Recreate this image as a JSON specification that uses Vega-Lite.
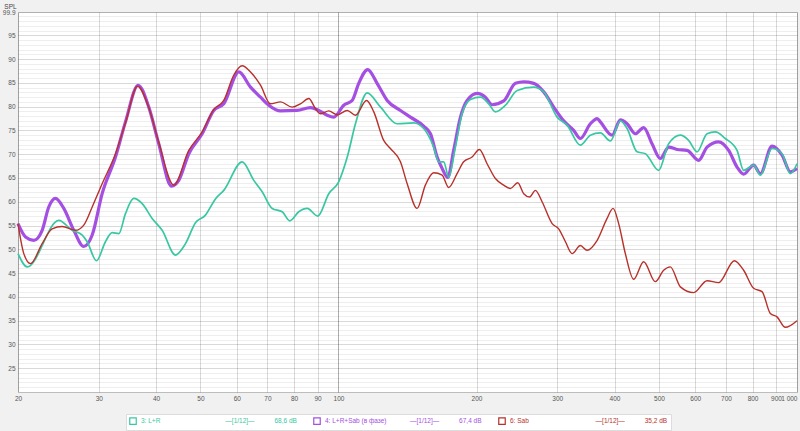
{
  "$schema": "https://vega.github.io/schema/vega-lite/v6.json",
  "width": 779,
  "height": 380,
  "autosize": {"type": "none"},
  "padding": {"left": 18, "top": 12, "right": 3, "bottom": 39},
  "background": "#f1f1f1",
  "config": {
    "view": {"stroke": "#bdbdbd", "fill": "white"},
    "font": "Liberation Sans",
    "axis": {"labelFont": "Liberation Sans", "labelFontSize": 6.5, "labelColor": "#555555", "ticks": false, "domain": false, "gridWidth": 1}
  },
  "datasets": {
    "resp": [
      {"s": "3: L+R", "f": 20, "db": 49.1},
      {"s": "3: L+R", "f": 20.95, "db": 46.3},
      {"s": "3: L+R", "f": 24.55, "db": 56.1},
      {"s": "3: L+R", "f": 26.25, "db": 54.0},
      {"s": "3: L+R", "f": 27.61, "db": 53.0},
      {"s": "3: L+R", "f": 28.31, "db": 51.6},
      {"s": "3: L+R", "f": 29.66, "db": 47.6},
      {"s": "3: L+R", "f": 31.03, "db": 51.6},
      {"s": "3: L+R", "f": 32.09, "db": 53.5},
      {"s": "3: L+R", "f": 33.18, "db": 53.3},
      {"s": "3: L+R", "f": 34.31, "db": 57.5},
      {"s": "3: L+R", "f": 35.77, "db": 60.7},
      {"s": "3: L+R", "f": 37.31, "db": 59.6},
      {"s": "3: L+R", "f": 39.23, "db": 56.5},
      {"s": "3: L+R", "f": 41.25, "db": 54.0},
      {"s": "3: L+R", "f": 44.1, "db": 48.8},
      {"s": "3: L+R", "f": 46.37, "db": 51.2},
      {"s": "3: L+R", "f": 48.76, "db": 55.6},
      {"s": "3: L+R", "f": 51.27, "db": 57.2},
      {"s": "3: L+R", "f": 53.91, "db": 60.6},
      {"s": "3: L+R", "f": 56.21, "db": 62.4},
      {"s": "3: L+R", "f": 61.66, "db": 68.4},
      {"s": "3: L+R", "f": 65.36, "db": 64.5},
      {"s": "3: L+R", "f": 68.17, "db": 62.1},
      {"s": "3: L+R", "f": 71.68, "db": 58.6},
      {"s": "3: L+R", "f": 75.37, "db": 57.9},
      {"s": "3: L+R", "f": 78.3, "db": 56.0},
      {"s": "3: L+R", "f": 81.92, "db": 57.9},
      {"s": "3: L+R", "f": 85.45, "db": 58.6},
      {"s": "3: L+R", "f": 90.12, "db": 57.0},
      {"s": "3: L+R", "f": 95.24, "db": 61.7},
      {"s": "3: L+R", "f": 100.1, "db": 64.2},
      {"s": "3: L+R", "f": 104.5, "db": 69.4},
      {"s": "3: L+R", "f": 108.9, "db": 76.4},
      {"s": "3: L+R", "f": 115.5, "db": 82.9},
      {"s": "3: L+R", "f": 123.5, "db": 79.9},
      {"s": "3: L+R", "f": 134.3, "db": 76.4},
      {"s": "3: L+R", "f": 145.9, "db": 76.6},
      {"s": "3: L+R", "f": 153.4, "db": 75.4},
      {"s": "3: L+R", "f": 161.3, "db": 71.5},
      {"s": "3: L+R", "f": 165.4, "db": 68.4},
      {"s": "3: L+R", "f": 169.6, "db": 68.4},
      {"s": "3: L+R", "f": 173.9, "db": 65.2},
      {"s": "3: L+R", "f": 179.9, "db": 71.5},
      {"s": "3: L+R", "f": 186, "db": 78.5},
      {"s": "3: L+R", "f": 194, "db": 81.5},
      {"s": "3: L+R", "f": 204, "db": 82.0},
      {"s": "3: L+R", "f": 212.6, "db": 80.6},
      {"s": "3: L+R", "f": 219.9, "db": 78.9},
      {"s": "3: L+R", "f": 231.3, "db": 80.3},
      {"s": "3: L+R", "f": 245.3, "db": 83.4},
      {"s": "3: L+R", "f": 266.5, "db": 84.1},
      {"s": "3: L+R", "f": 280.3, "db": 83.1},
      {"s": "3: L+R", "f": 299.8, "db": 77.8},
      {"s": "3: L+R", "f": 315.2, "db": 76.1},
      {"s": "3: L+R", "f": 336.9, "db": 71.9},
      {"s": "3: L+R", "f": 354.3, "db": 74.0},
      {"s": "3: L+R", "f": 372.5, "db": 74.5},
      {"s": "3: L+R", "f": 391.7, "db": 72.8},
      {"s": "3: L+R", "f": 411.9, "db": 77.0},
      {"s": "3: L+R", "f": 426, "db": 75.4},
      {"s": "3: L+R", "f": 447.9, "db": 70.5},
      {"s": "3: L+R", "f": 467, "db": 70.1},
      {"s": "3: L+R", "f": 499.2, "db": 66.6},
      {"s": "3: L+R", "f": 524.9, "db": 72.2},
      {"s": "3: L+R", "f": 556.7, "db": 74.0},
      {"s": "3: L+R", "f": 580.3, "db": 72.9},
      {"s": "3: L+R", "f": 605.4, "db": 70.5},
      {"s": "3: L+R", "f": 636.5, "db": 74.3},
      {"s": "3: L+R", "f": 663.6, "db": 74.7},
      {"s": "3: L+R", "f": 697.8, "db": 73.3},
      {"s": "3: L+R", "f": 740, "db": 70.8},
      {"s": "3: L+R", "f": 764.9, "db": 66.6},
      {"s": "3: L+R", "f": 804.4, "db": 67.7},
      {"s": "3: L+R", "f": 831.9, "db": 65.6},
      {"s": "3: L+R", "f": 882.2, "db": 71.2},
      {"s": "3: L+R", "f": 927.7, "db": 70.1},
      {"s": "3: L+R", "f": 967.1, "db": 65.9},
      {"s": "3: L+R", "f": 1000, "db": 68.0},
      {"s": "4: L+R+Sab (в фазе)", "f": 20, "db": 55.4},
      {"s": "4: L+R+Sab (в фазе)", "f": 20.77, "db": 52.6},
      {"s": "4: L+R+Sab (в фазе)", "f": 21.65, "db": 51.9},
      {"s": "4: L+R+Sab (в фазе)", "f": 22.58, "db": 54.0},
      {"s": "4: L+R+Sab (в фазе)", "f": 23.34, "db": 58.9},
      {"s": "4: L+R+Sab (в фазе)", "f": 24.14, "db": 60.7},
      {"s": "4: L+R+Sab (в фазе)", "f": 25.17, "db": 58.6},
      {"s": "4: L+R+Sab (в фазе)", "f": 26.47, "db": 54.0},
      {"s": "4: L+R+Sab (в фазе)", "f": 27.83, "db": 50.6},
      {"s": "4: L+R+Sab (в фазе)", "f": 29.03, "db": 53.0},
      {"s": "4: L+R+Sab (в фазе)", "f": 30.52, "db": 61.7},
      {"s": "4: L+R+Sab (в фазе)", "f": 32.63, "db": 69.4},
      {"s": "4: L+R+Sab (в фазе)", "f": 34.31, "db": 76.8},
      {"s": "4: L+R+Sab (в фазе)", "f": 36.57, "db": 84.5},
      {"s": "4: L+R+Sab (в фазе)", "f": 38.57, "db": 79.9},
      {"s": "4: L+R+Sab (в фазе)", "f": 40.55, "db": 72.2},
      {"s": "4: L+R+Sab (в фазе)", "f": 43.22, "db": 63.3},
      {"s": "4: L+R+Sab (в фазе)", "f": 44.84, "db": 64.5},
      {"s": "4: L+R+Sab (в фазе)", "f": 47.15, "db": 70.1},
      {"s": "4: L+R+Sab (в фазе)", "f": 50.43, "db": 74.3},
      {"s": "4: L+R+Sab (в фазе)", "f": 53.45, "db": 79.2},
      {"s": "4: L+R+Sab (в фазе)", "f": 56.21, "db": 80.6},
      {"s": "4: L+R+Sab (в фазе)", "f": 60.62, "db": 87.3},
      {"s": "4: L+R+Sab (в фазе)", "f": 64.29, "db": 84.1},
      {"s": "4: L+R+Sab (в фазе)", "f": 67.59, "db": 82.0},
      {"s": "4: L+R+Sab (в фазе)", "f": 70.46, "db": 80.3},
      {"s": "4: L+R+Sab (в фазе)", "f": 74.73, "db": 79.1},
      {"s": "4: L+R+Sab (в фазе)", "f": 81.26, "db": 79.2},
      {"s": "4: L+R+Sab (в фазе)", "f": 86.88, "db": 79.8},
      {"s": "4: L+R+Sab (в фазе)", "f": 90.57, "db": 79.2},
      {"s": "4: L+R+Sab (в фазе)", "f": 94.48, "db": 78.2},
      {"s": "4: L+R+Sab (в фазе)", "f": 97.66, "db": 77.8},
      {"s": "4: L+R+Sab (в фазе)", "f": 102.7, "db": 80.3},
      {"s": "4: L+R+Sab (в фазе)", "f": 107.1, "db": 81.3},
      {"s": "4: L+R+Sab (в фазе)", "f": 110.7, "db": 84.9},
      {"s": "4: L+R+Sab (в фазе)", "f": 115.8, "db": 87.8},
      {"s": "4: L+R+Sab (в фазе)", "f": 121.4, "db": 84.9},
      {"s": "4: L+R+Sab (в фазе)", "f": 127.7, "db": 81.3},
      {"s": "4: L+R+Sab (в фазе)", "f": 136.5, "db": 79.2},
      {"s": "4: L+R+Sab (в фазе)", "f": 143.5, "db": 77.8},
      {"s": "4: L+R+Sab (в фазе)", "f": 153.4, "db": 75.9},
      {"s": "4: L+R+Sab (в фазе)", "f": 158.7, "db": 74.3},
      {"s": "4: L+R+Sab (в фазе)", "f": 164.1, "db": 69.4},
      {"s": "4: L+R+Sab (в фазе)", "f": 168.3, "db": 67.0},
      {"s": "4: L+R+Sab (в фазе)", "f": 173.1, "db": 65.1},
      {"s": "4: L+R+Sab (в фазе)", "f": 178.3, "db": 70.8},
      {"s": "4: L+R+Sab (в фазе)", "f": 184.5, "db": 77.8},
      {"s": "4: L+R+Sab (в фазе)", "f": 190.8, "db": 81.3},
      {"s": "4: L+R+Sab (в фазе)", "f": 200.6, "db": 82.8},
      {"s": "4: L+R+Sab (в фазе)", "f": 209.1, "db": 82.0},
      {"s": "4: L+R+Sab (в фазе)", "f": 216.3, "db": 80.4},
      {"s": "4: L+R+Sab (в фазе)", "f": 229.3, "db": 81.2},
      {"s": "4: L+R+Sab (в фазе)", "f": 243.2, "db": 84.9},
      {"s": "4: L+R+Sab (в фазе)", "f": 253.5, "db": 85.2},
      {"s": "4: L+R+Sab (в фазе)", "f": 266.5, "db": 84.9},
      {"s": "4: L+R+Sab (в фазе)", "f": 280.3, "db": 83.1},
      {"s": "4: L+R+Sab (в фазе)", "f": 294.7, "db": 79.9},
      {"s": "4: L+R+Sab (в фазе)", "f": 309.9, "db": 77.0},
      {"s": "4: L+R+Sab (в фазе)", "f": 325.8, "db": 75.0},
      {"s": "4: L+R+Sab (в фазе)", "f": 336.9, "db": 73.3},
      {"s": "4: L+R+Sab (в фазе)", "f": 354.3, "db": 76.4},
      {"s": "4: L+R+Sab (в фазе)", "f": 366.6, "db": 77.5},
      {"s": "4: L+R+Sab (в фазе)", "f": 372.5, "db": 76.8},
      {"s": "4: L+R+Sab (в фазе)", "f": 395.1, "db": 74.0},
      {"s": "4: L+R+Sab (в фазе)", "f": 411.9, "db": 77.2},
      {"s": "4: L+R+Sab (в фазе)", "f": 426, "db": 76.4},
      {"s": "4: L+R+Sab (в фазе)", "f": 444.1, "db": 74.3},
      {"s": "4: L+R+Sab (в фазе)", "f": 463, "db": 75.6},
      {"s": "4: L+R+Sab (в фазе)", "f": 482.9, "db": 72.2},
      {"s": "4: L+R+Sab (в фазе)", "f": 503.5, "db": 69.1},
      {"s": "4: L+R+Sab (в фазе)", "f": 524.9, "db": 71.5},
      {"s": "4: L+R+Sab (в фазе)", "f": 547.5, "db": 71.0},
      {"s": "4: L+R+Sab (в фазе)", "f": 575.7, "db": 70.8},
      {"s": "4: L+R+Sab (в фазе)", "f": 610.2, "db": 68.7},
      {"s": "4: L+R+Sab (в фазе)", "f": 636.5, "db": 71.5},
      {"s": "4: L+R+Sab (в фазе)", "f": 674.7, "db": 72.6},
      {"s": "4: L+R+Sab (в фазе)", "f": 709.5, "db": 70.8},
      {"s": "4: L+R+Sab (в фазе)", "f": 740, "db": 67.3},
      {"s": "4: L+R+Sab (в фазе)", "f": 764.9, "db": 65.8},
      {"s": "4: L+R+Sab (в фазе)", "f": 804.4, "db": 67.7},
      {"s": "4: L+R+Sab (в фазе)", "f": 831.9, "db": 65.9},
      {"s": "4: L+R+Sab (в фазе)", "f": 882.2, "db": 71.7},
      {"s": "4: L+R+Sab (в фазе)", "f": 927.7, "db": 69.8},
      {"s": "4: L+R+Sab (в фазе)", "f": 967.1, "db": 66.3},
      {"s": "4: L+R+Sab (в фазе)", "f": 1000, "db": 67.0},
      {"s": "6: Sab", "f": 20, "db": 55.4},
      {"s": "6: Sab", "f": 20.59, "db": 49.1},
      {"s": "6: Sab", "f": 21.3, "db": 47.0},
      {"s": "6: Sab", "f": 22.58, "db": 51.2},
      {"s": "6: Sab", "f": 23.74, "db": 54.3},
      {"s": "6: Sab", "f": 24.97, "db": 54.8},
      {"s": "6: Sab", "f": 26.69, "db": 54.0},
      {"s": "6: Sab", "f": 27.83, "db": 55.1},
      {"s": "6: Sab", "f": 29.03, "db": 58.9},
      {"s": "6: Sab", "f": 30.52, "db": 63.8},
      {"s": "6: Sab", "f": 32.63, "db": 70.1},
      {"s": "6: Sab", "f": 34.31, "db": 76.6},
      {"s": "6: Sab", "f": 36.44, "db": 84.3},
      {"s": "6: Sab", "f": 38.57, "db": 79.8},
      {"s": "6: Sab", "f": 40.55, "db": 72.5},
      {"s": "6: Sab", "f": 43.73, "db": 63.5},
      {"s": "6: Sab", "f": 47.15, "db": 70.8},
      {"s": "6: Sab", "f": 50.43, "db": 74.7},
      {"s": "6: Sab", "f": 53.45, "db": 79.4},
      {"s": "6: Sab", "f": 56.21, "db": 81.3},
      {"s": "6: Sab", "f": 59.08, "db": 86.6},
      {"s": "6: Sab", "f": 61.66, "db": 88.6},
      {"s": "6: Sab", "f": 64.29, "db": 87.3},
      {"s": "6: Sab", "f": 67.59, "db": 84.5},
      {"s": "6: Sab", "f": 71.06, "db": 80.6},
      {"s": "6: Sab", "f": 74.73, "db": 81.0},
      {"s": "6: Sab", "f": 79.25, "db": 79.9},
      {"s": "6: Sab", "f": 82.62, "db": 80.6},
      {"s": "6: Sab", "f": 86.14, "db": 81.7},
      {"s": "6: Sab", "f": 89.08, "db": 79.6},
      {"s": "6: Sab", "f": 91.35, "db": 78.5},
      {"s": "6: Sab", "f": 95.24, "db": 79.1},
      {"s": "6: Sab", "f": 99.34, "db": 78.3},
      {"s": "6: Sab", "f": 104.5, "db": 79.2},
      {"s": "6: Sab", "f": 108.9, "db": 78.2},
      {"s": "6: Sab", "f": 115.1, "db": 81.3},
      {"s": "6: Sab", "f": 119.4, "db": 78.9},
      {"s": "6: Sab", "f": 125.5, "db": 72.9},
      {"s": "6: Sab", "f": 129.8, "db": 71.2},
      {"s": "6: Sab", "f": 136.5, "db": 68.4},
      {"s": "6: Sab", "f": 141.2, "db": 63.8},
      {"s": "6: Sab", "f": 148.4, "db": 58.6},
      {"s": "6: Sab", "f": 154.7, "db": 63.5},
      {"s": "6: Sab", "f": 161.3, "db": 66.1},
      {"s": "6: Sab", "f": 168.3, "db": 65.6},
      {"s": "6: Sab", "f": 173.9, "db": 63.0},
      {"s": "6: Sab", "f": 181.4, "db": 65.9},
      {"s": "6: Sab", "f": 187.5, "db": 68.4},
      {"s": "6: Sab", "f": 195.6, "db": 69.4},
      {"s": "6: Sab", "f": 202.9, "db": 71.0},
      {"s": "6: Sab", "f": 210.9, "db": 68.0},
      {"s": "6: Sab", "f": 219.9, "db": 64.9},
      {"s": "6: Sab", "f": 229.3, "db": 63.5},
      {"s": "6: Sab", "f": 237.1, "db": 62.8},
      {"s": "6: Sab", "f": 246, "db": 64.0},
      {"s": "6: Sab", "f": 253.5, "db": 61.7},
      {"s": "6: Sab", "f": 261.2, "db": 61.0},
      {"s": "6: Sab", "f": 268.8, "db": 62.4},
      {"s": "6: Sab", "f": 278, "db": 60.0},
      {"s": "6: Sab", "f": 292.4, "db": 55.4},
      {"s": "6: Sab", "f": 302.2, "db": 54.3},
      {"s": "6: Sab", "f": 312.6, "db": 51.6},
      {"s": "6: Sab", "f": 323.2, "db": 49.1},
      {"s": "6: Sab", "f": 336.9, "db": 50.8},
      {"s": "6: Sab", "f": 348.5, "db": 49.8},
      {"s": "6: Sab", "f": 366.6, "db": 51.9},
      {"s": "6: Sab", "f": 385.3, "db": 56.5},
      {"s": "6: Sab", "f": 397.1, "db": 58.6},
      {"s": "6: Sab", "f": 408.4, "db": 55.4},
      {"s": "6: Sab", "f": 422.3, "db": 49.1},
      {"s": "6: Sab", "f": 440.3, "db": 43.7},
      {"s": "6: Sab", "f": 463, "db": 47.4},
      {"s": "6: Sab", "f": 491, "db": 43.2},
      {"s": "6: Sab", "f": 511.9, "db": 45.6},
      {"s": "6: Sab", "f": 529.4, "db": 46.3},
      {"s": "6: Sab", "f": 556.7, "db": 42.1},
      {"s": "6: Sab", "f": 595.1, "db": 40.9},
      {"s": "6: Sab", "f": 636.5, "db": 43.4},
      {"s": "6: Sab", "f": 674.7, "db": 43.0},
      {"s": "6: Sab", "f": 730, "db": 47.6},
      {"s": "6: Sab", "f": 764.9, "db": 45.6},
      {"s": "6: Sab", "f": 804.4, "db": 41.8},
      {"s": "6: Sab", "f": 839, "db": 41.1},
      {"s": "6: Sab", "f": 874.7, "db": 36.5},
      {"s": "6: Sab", "f": 904.6, "db": 35.8},
      {"s": "6: Sab", "f": 943.1, "db": 33.6},
      {"s": "6: Sab", "f": 1000, "db": 35.0}
    ]
  },
  "encoding": {
    "x": {
      "field": "f", "type": "quantitative",
      "scale": {"type": "log", "domain": [20, 1000], "nice": false},
      "axis": {
        "title": null,
        "values": [20, 30, 40, 50, 60, 70, 80, 90, 100, 200, 300, 400, 500, 600, 700, 800, 900, 1000],
        "labelExpr": "datum.value >= 1000 ? '1 000' : format(datum.value, 'd')",
        "labelAlign": {"condition": {"test": "datum.value >= 1000", "value": "right"}, "value": "center"},
        "labelOverlap": false,
        "labelFlush": false,
        "labelPadding": 3,
        "gridColor": {"condition": {"test": "datum.value == 100", "value": "rgba(0,0,0,0.32)"}, "value": "rgba(0,0,0,0.15)"}
      }
    },
    "y": {
      "field": "db", "type": "quantitative",
      "scale": {"domain": [20, 99.9], "nice": false, "zero": false},
      "axis": {
        "title": "SPL",
        "titleAngle": 0,
        "titleX": -8,
        "titleY": -4,
        "titleAlign": "center",
        "titleBaseline": "alphabetic",
        "titleFontSize": 6.5,
        "titleFontWeight": "normal",
        "titleColor": "#444444",
        "labelPadding": 3,
        "labelOverlap": false,
        "labelFlush": false,
        "values": [21, 22, 23, 24, 25, 26, 27, 28, 29, 30, 31, 32, 33, 34, 35, 36, 37, 38, 39, 40, 41, 42, 43, 44, 45, 46, 47, 48, 49, 50, 51, 52, 53, 54, 55, 56, 57, 58, 59, 60, 61, 62, 63, 64, 65, 66, 67, 68, 69, 70, 71, 72, 73, 74, 75, 76, 77, 78, 79, 80, 81, 82, 83, 84, 85, 86, 87, 88, 89, 90, 91, 92, 93, 94, 95, 96, 97, 98, 99, 99.9],
        "labelExpr": "datum.value > 99.5 ? '99.9' : (datum.value % 5 == 0 ? format(datum.value, 'd') : '')",
        "gridColor": {"condition": {"test": "datum.value % 5 == 0", "value": "rgba(0,0,0,0.15)"}, "value": "rgba(0,0,0,0.065)"}
      }
    }
  },
  "layer": [
    {
      "data": {"values": [{"t": "Average the responses"}]},
      "mark": {"type": "rect", "fill": "#e4e4e4", "stroke": "#d0d0d0", "strokeWidth": 0.8, "cornerRadius": 2},
      "encoding": {
        "x": {"datum": 20.1, "type": "quantitative"},
        "x2": {"datum": 27.6},
        "y": {"datum": 20.2, "type": "quantitative"},
        "y2": {"datum": 22.9}
      }
    },
    {
      "data": {"values": [{"t": "Average the responses"}]},
      "mark": {"type": "text", "align": "left", "baseline": "middle", "fontSize": 6.5, "color": "#333333", "font": "Liberation Sans"},
      "encoding": {
        "x": {"datum": 20.5, "type": "quantitative"},
        "y": {"datum": 21.55, "type": "quantitative"},
        "text": {"field": "t"}
      }
    },
    {
      "data": {"name": "resp"},
      "transform": [{"filter": "datum.s == '4: L+R+Sab (в фазе)'"}],
      "mark": {"type": "line", "strokeWidth": 3.2, "interpolate": "monotone"},
      "encoding": {
        "color": {
          "field": "s", "type": "nominal",
          "scale": {"domain": ["3: L+R", "4: L+R+Sab (в фазе)", "6: Sab"], "range": ["#38c7a2", "#a44fe2", "#b8302a"]},
          "legend": {
            "orient": "none",
            "legendX": 108,
            "legendY": 402,
            "direction": "horizontal",
            "columns": 3,
            "title": null,
            "symbolType": "square",
            "symbolSize": 42,
            "symbolStrokeWidth": 1.2,
            "labelFont": "Liberation Sans",
            "labelFontSize": 6.5,
            "labelLimit": 400,
            "labelOffset": 4,
            "columnPadding": 14,
            "padding": 3,
            "strokeColor": "#dcdcdc",
            "fillColor": "#ffffff",
            "labelExpr": "datum.label + pad('', datum.label == '3: L+R' ? 36 : (datum.label == '6: Sab' ? 37 : 13), '\u00a0') + '—[1/12]—' + pad('', 11, '\u00a0') + (datum.label == '3: L+R' ? '68,6 dB' : (datum.label == '6: Sab' ? '35,2 dB' : '67,4 dB'))",
            "labelColor": {"expr": "datum.value == '3: L+R' ? '#38c7a2' : (datum.value == '6: Sab' ? '#b8302a' : '#a44fe2')"}
          }
        }
      }
    },
    {
      "data": {"name": "resp"},
      "transform": [{"filter": "datum.s == '3: L+R'"}],
      "mark": {"type": "line", "strokeWidth": 1.7, "interpolate": "monotone"},
      "encoding": {"color": {"field": "s", "type": "nominal"}}
    },
    {
      "data": {"name": "resp"},
      "transform": [{"filter": "datum.s == '6: Sab'"}],
      "mark": {"type": "line", "strokeWidth": 1.4, "interpolate": "monotone"},
      "encoding": {"color": {"field": "s", "type": "nominal"}}
    },
    {
      "data": {"values": [{"k": 1}]},
      "mark": {"type": "rule", "color": "#555555", "strokeWidth": 1},
      "encoding": {"y": {"datum": 99.9, "type": "quantitative"}}
    },
    {
      "data": {"values": [{"k": 1}]},
      "mark": {"type": "rule", "color": "#555555", "strokeWidth": 1},
      "encoding": {"x": {"datum": 1000, "type": "quantitative"}}
    }
  ]
}
